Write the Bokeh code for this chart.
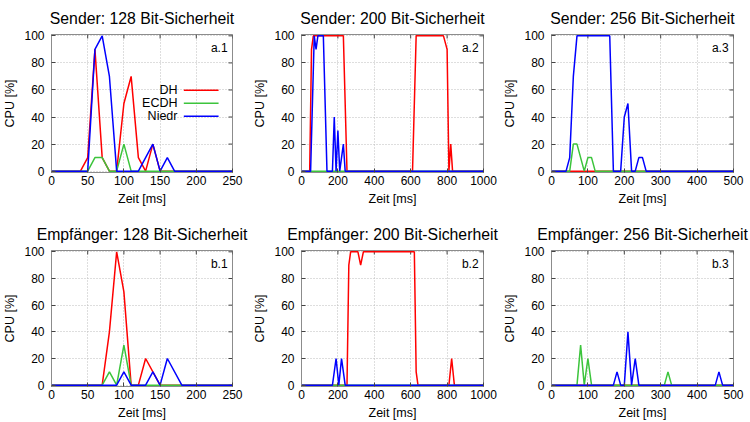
from bokeh.plotting import figure
from bokeh.layouts import column, row
from bokeh.models import Range1d, FixedTicker, Label
from bokeh.embed import file_html
from bokeh.resources import INLINE

# ---------------- data (time in ms, CPU in %) ----------------
series_names = ["DH", "ECDH", "Niedr"]

# a.1  Sender 128 bit
a1_dh_t = [0, 40, 50, 60, 70, 80, 90, 100, 110, 120, 130, 140, 150, 250]
a1_dh_v = [0, 0, 10, 90, 10, 0, 0, 50, 70, 10, 0, 20, 0, 0]
a1_ecdh_t = [0, 50, 60, 70, 80, 90, 100, 110, 250]
a1_ecdh_v = [0, 0, 10, 10, 0, 0, 20, 0, 0]
a1_niedr_t = [0, 50, 60, 70, 80, 90, 120, 130, 140, 150, 160, 170, 250]
a1_niedr_v = [0, 0, 90, 100, 70, 0, 0, 10, 20, 0, 10, 0, 0]

# a.2  Sender 200 bit
a2_dh_t = [0, 45, 55, 65, 230, 250, 610, 630, 780, 800, 810, 820, 830, 1000]
a2_dh_v = [0, 0, 90, 100, 100, 0, 0, 100, 100, 90, 0, 20, 0, 0]
a2_ecdh_t = [0, 1000]
a2_ecdh_v = [0, 0]
a2_niedr_t = [0, 50, 70, 80, 90, 120, 140, 170, 180, 190, 200, 210, 230, 240, 1000]
a2_niedr_v = [0, 0, 100, 90, 100, 100, 0, 0, 40, 0, 30, 0, 20, 0, 0]

# a.3  Sender 256 bit
a3_dh_t = [0, 500]
a3_dh_v = [0, 0]
a3_ecdh_t = [0, 50, 60, 70, 90, 100, 110, 120, 500]
a3_ecdh_v = [0, 0, 20, 20, 0, 10, 10, 0, 0]
a3_niedr_t = [0, 40, 50, 60, 70, 160, 170, 190, 200, 210, 220, 230, 240, 250, 260, 500]
a3_niedr_v = [0, 0, 10, 70, 100, 100, 0, 0, 40, 50, 0, 0, 10, 10, 0, 0]

# b.1  Empfaenger 128 bit
b1_dh_t = [0, 70, 80, 90, 100, 110, 120, 130, 150, 250]
b1_dh_v = [0, 0, 40, 100, 70, 0, 0, 20, 0, 0]
b1_ecdh_t = [0, 70, 80, 90, 100, 110, 250]
b1_ecdh_v = [0, 0, 10, 0, 30, 0, 0]
b1_niedr_t = [0, 90, 100, 110, 130, 140, 150, 160, 180, 250]
b1_niedr_v = [0, 0, 10, 0, 0, 10, 0, 20, 0, 0]

# b.2  Empfaenger 200 bit
b2_dh_t = [0, 250, 260, 270, 310, 325, 340, 620, 630, 640, 810, 825, 840, 1000]
b2_dh_v = [0, 0, 90, 100, 100, 90, 100, 100, 10, 0, 0, 20, 0, 0]
b2_ecdh_t = [0, 1000]
b2_ecdh_v = [0, 0]
b2_niedr_t = [0, 170, 190, 205, 220, 240, 1000]
b2_niedr_v = [0, 0, 20, 0, 20, 0, 0]

# b.3  Empfaenger 256 bit
b3_dh_t = [0, 500]
b3_dh_v = [0, 0]
b3_ecdh_t = [0, 70, 80, 90, 100, 110, 310, 320, 330, 500]
b3_ecdh_v = [0, 0, 30, 0, 20, 0, 0, 10, 0, 0]
b3_niedr_t = [0, 170, 180, 190, 200, 210, 220, 230, 240, 450, 460, 470, 500]
b3_niedr_v = [0, 0, 10, 0, 0, 40, 0, 20, 0, 0, 10, 0, 0]

y_ticks = [0, 20, 40, 60, 80, 100]

panels = [
    ("Sender: 128 Bit-Sicherheit", "a.1", 250, 50,
     [(a1_dh_t, a1_dh_v), (a1_ecdh_t, a1_ecdh_v), (a1_niedr_t, a1_niedr_v)], True),
    ("Sender: 200 Bit-Sicherheit", "a.2", 1000, 200,
     [(a2_dh_t, a2_dh_v), (a2_ecdh_t, a2_ecdh_v), (a2_niedr_t, a2_niedr_v)], False),
    ("Sender: 256 Bit-Sicherheit", "a.3", 500, 100,
     [(a3_dh_t, a3_dh_v), (a3_ecdh_t, a3_ecdh_v), (a3_niedr_t, a3_niedr_v)], False),
    ("Empfänger: 128 Bit-Sicherheit", "b.1", 250, 50,
     [(b1_dh_t, b1_dh_v), (b1_ecdh_t, b1_ecdh_v), (b1_niedr_t, b1_niedr_v)], False),
    ("Empfänger: 200 Bit-Sicherheit", "b.2", 1000, 200,
     [(b2_dh_t, b2_dh_v), (b2_ecdh_t, b2_ecdh_v), (b2_niedr_t, b2_niedr_v)], False),
    ("Empfänger: 256 Bit-Sicherheit", "b.3", 500, 100,
     [(b3_dh_t, b3_dh_v), (b3_ecdh_t, b3_ecdh_v), (b3_niedr_t, b3_niedr_v)], False),
]

# ---------------- style ----------------
FONT = "Liberation Sans"
COLORS = ["#ff0000", "#3cc43c", "#0000ff"]
FRAME = "#8c8c8c"
TICK = "#444444"
Y_LO, Y_HI = -1, 101


def style_axis(ax):
    ax.major_tick_in = 4
    ax.major_tick_out = 0
    ax.minor_tick_in = 0
    ax.minor_tick_out = 0
    ax.axis_line_color = FRAME
    ax.major_tick_line_color = TICK
    ax.major_label_text_font = FONT
    ax.major_label_text_font_size = "12px"
    ax.major_label_text_color = "black"
    ax.axis_label_text_font = FONT
    ax.axis_label_text_font_size = "12.5px"
    ax.axis_label_text_font_style = "normal"
    ax.axis_label_text_color = "black"


def make_panel(cfg, width, height, b_left, b_top, b_bottom, b_right):
    title, tag, xmax, xstep, series, with_legend = cfg
    x_ticks = list(range(0, xmax + 1, xstep))
    p = figure(width=width, height=height, output_backend="svg", toolbar_location=None,
               x_range=Range1d(0, xmax), y_range=Range1d(Y_LO, Y_HI),
               min_border_left=b_left, min_border_right=b_right,
               min_border_top=b_top, min_border_bottom=b_bottom)
    p.title.text = title
    p.title.align = "center"
    p.title.text_font = FONT
    p.title.text_font_size = "15.8px"
    p.title.text_font_style = "normal"
    p.title.text_color = "black"
    p.title.standoff = 15
    p.outline_line_color = FRAME
    p.outline_line_width = 1
    p.border_fill_color = "white"
    p.background_fill_color = "white"

    p.xaxis.ticker = FixedTicker(ticks=x_ticks)
    p.yaxis.ticker = FixedTicker(ticks=y_ticks)
    p.xaxis.axis_label = "Zeit [ms]"
    p.yaxis.axis_label = "CPU [%]"
    for ax in p.xaxis + p.yaxis:
        style_axis(ax)
    p.xaxis.major_label_standoff = 3
    p.yaxis.major_label_standoff = 7
    p.xaxis.axis_label_standoff = 4
    p.yaxis.axis_label_standoff = 4

    p.xgrid.ticker = FixedTicker(ticks=x_ticks)
    p.ygrid.ticker = FixedTicker(ticks=y_ticks)
    for g in (p.xgrid, p.ygrid):
        g.grid_line_color = "#bdbdbd"
        g.grid_line_dash = "1 2"
        g.grid_line_width = 1

    # mirrored inward ticks on the top and right edges of the frame
    tick_dy = (Y_HI - Y_LO) * 0.029
    tick_dx = xmax * 0.022
    p.segment(x0=x_ticks, y0=[Y_HI] * len(x_ticks), x1=x_ticks, y1=[Y_HI - tick_dy] * len(x_ticks),
              line_color=TICK, line_width=1)
    p.segment(x0=[xmax] * len(y_ticks), y0=y_ticks, x1=[xmax - tick_dx] * len(y_ticks), y1=y_ticks,
              line_color=TICK, line_width=1)

    for (t, v), c in zip(series, COLORS):
        p.line(t, v, line_color=c, line_width=1.5)

    p.add_layout(Label(x=xmax * 0.973, y=91, text=tag, text_align="right",
                       text_baseline="middle", text_font=FONT, text_font_size="12px",
                       text_color="black"))

    if with_legend:
        ys = [59.8, 50.2, 40.6]
        for name, c, yy in zip(series_names, COLORS, ys):
            p.add_layout(Label(x=xmax * 0.696, y=yy, text=name, text_align="right",
                               text_baseline="middle", text_font=FONT,
                               text_font_size="12.5px", text_color="black"))
            p.segment(x0=[xmax * 0.731], y0=[yy], x1=[xmax * 0.923], y1=[yy],
                      line_color=c, line_width=1.5)
    return p


widths = [250, 250, 250]
lefts = [50, 50, 51]
rights = [18, 17, 17]
top_row = [make_panel(panels[i], widths[i], 216, lefts[i], 34, 44, rights[i]) for i in range(3)]
bot_row = [make_panel(panels[i + 3], widths[i], 206, lefts[i], 34, 36, rights[i]) for i in range(3)]

layout = column(row(*top_row, spacing=0), row(*bot_row, spacing=0), spacing=0)

open("out.html", "w").write(file_html(layout, INLINE))
